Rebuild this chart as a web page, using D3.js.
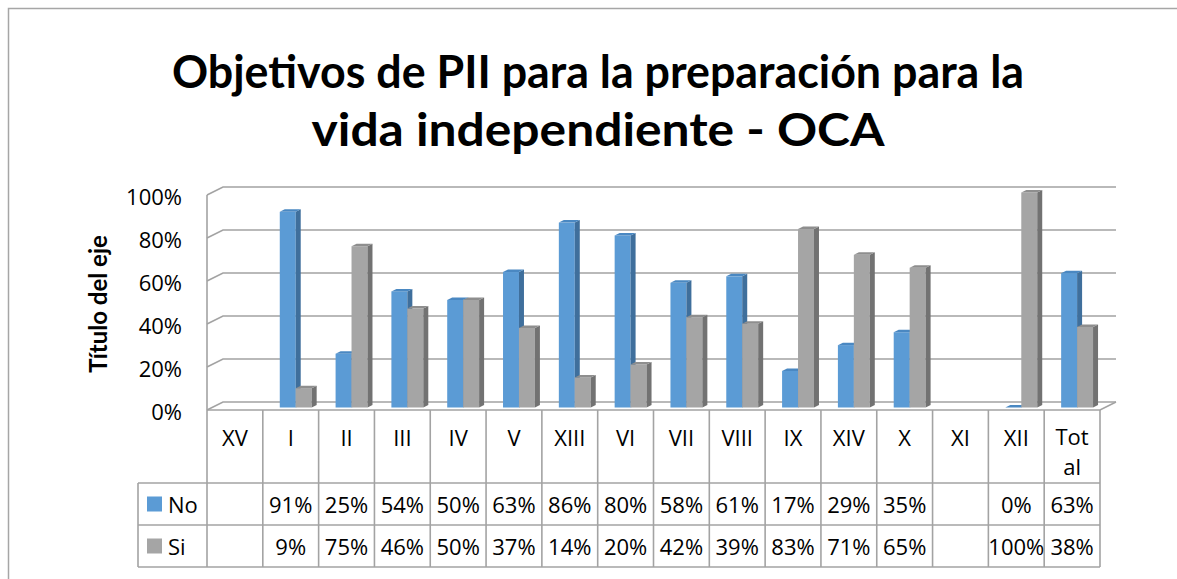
<!DOCTYPE html>
<html>
<head>
<meta charset="utf-8">
<script src="https://cdn.jsdelivr.net/npm/d3@7"></script>
<style>
html,body{margin:0;padding:0;background:#fff;}
svg{display:block;}
text{font-family:"Open Sans",Lato,sans-serif;fill:#000;}
</style>
</head>
<body>
<svg id="chart" width="1177" height="579"></svg>
<script>
// ---- data ----
const titleLines = ["Objetivos de PII para la preparación para la", "vida independiente - OCA"];
const axisTitle = "Título del eje";
const categories = ["XV","I","II","III","IV","V","XIII","VI","VII","VIII","IX","XIV","X","XI","XII","Total"];
const seriesNames = ["No","Si"];
const noValues = [null,0.91,0.25,0.54,0.50,0.63,0.86,0.80,0.58,0.61,0.17,0.29,0.35,null,0.00,0.625];
const siValues = [null,0.09,0.75,0.46,0.50,0.37,0.14,0.20,0.42,0.39,0.83,0.71,0.65,null,1.00,0.375];
const yTicks = [0,0.2,0.4,0.6,0.8,1.0];

const seriesValues = [noValues, siValues];
const colors = {
  No: {front:"#5b9bd5", side:"#3f6f9c", top:"#4a88c2"},
  Si: {front:"#a5a5a5", side:"#727272", top:"#8e8e8e"}
};

const svg = d3.select("#chart");
const fmt = v => Math.round(v*100) + "%";
const FS = 22;

// outer border
svg.append("rect").attr("x",8.5).attr("y",8.5).attr("width",1400).attr("height",800)
  .attr("fill","none").attr("stroke","#a6a6a6").attr("stroke-width",1.5);

// title (each line fitted to the reference width)
const titleWidths = [852, 573];
const titleBase = [88, 146];
titleLines.forEach((l,i)=>{
  svg.append("text").attr("x",598).attr("y",titleBase[i]).attr("text-anchor","middle")
    .style("font-family","Lato,'Open Sans',sans-serif")
    .attr("font-weight","bold").attr("font-size",45)
    .attr("textLength",titleWidths[i]).attr("lengthAdjust","spacingAndGlyphs").text(l);
});

// geometry
const left = 207, right = 1100;
const floorFront = 410, topFront = 195;
const DX = 16, DY = -8;   // wall depth
const bdx = 5, bdy = -2.5; // bar depth

const x = d3.scaleBand().domain(categories).range([left,right]).paddingInner(0).paddingOuter(0);
const xi = d3.scaleBand().domain(seriesNames).range([0,x.bandwidth()]).paddingInner(0).paddingOuter(0.75);
const yFront = d3.scaleLinear().domain([0,1]).range([floorFront, topFront]);
const yBack = d3.scaleLinear().domain([0,1]).range([floorFront+DY, topFront+DY]);
const yBar = d3.scaleLinear().domain([0,1]).range([floorFront+bdy, topFront+bdy]);

const gridColor = "#a3a3a3";
const grid = svg.append("g").attr("fill","none").attr("stroke",gridColor).attr("stroke-width",1.6);
yTicks.forEach(t=>{
  grid.append("path").attr("d",
    `M${left},${yFront(t)}L${left+DX},${yBack(t)}L${right+DX},${yBack(t)}`);
});
grid.append("path").attr("d",`M${left},${yFront(1)}L${left},${floorFront}`);
grid.append("path").attr("d",`M${left},${floorFront}L${right},${floorFront}L${right+DX},${floorFront+DY}`);

// y axis labels
const yAxis = svg.append("g").attr("transform",`translate(${182},2)`)
  .call(d3.axisLeft(yFront).tickValues(yTicks).tickFormat(d3.format(".0%")).tickSize(0).tickPadding(0));
yAxis.select(".domain").remove();
yAxis.selectAll("text").attr("font-size",FS).attr("font-family","'Open Sans',Lato,sans-serif").attr("fill","#000");

// axis title
svg.append("text").attr("transform","translate(97,304) rotate(-90)")
  .attr("text-anchor","middle").attr("dominant-baseline","central")
  .style("font-family","Lato,'Open Sans',sans-serif")
  .attr("font-weight","bold").attr("font-size",24).text(axisTitle);

// bars
const bars = svg.append("g");
categories.forEach((c,ci)=>{
  seriesNames.forEach((s,si)=>{
    const v = seriesValues[si][ci];
    if (v===null) return;
    const x0 = x(c) + xi(s) + bdx;
    const w = xi.bandwidth();
    const yb = yBar(0), yt = yBar(v);
    const col = colors[s];
    const g = bars.append("g");
    g.append("rect").attr("x",x0).attr("y",yt).attr("width",w).attr("height",yb-yt).attr("fill",col.front);
    g.append("path").attr("d",`M${x0+w},${yt}L${x0+w+bdx},${yt+bdy}L${x0+w+bdx},${yb+bdy}L${x0+w},${yb}Z`).attr("fill",col.side);
    g.append("path").attr("d",`M${x0},${yt}L${x0+bdx},${yt+bdy}L${x0+w+bdx},${yt+bdy}L${x0+w},${yt}Z`).attr("fill",col.top);
  });
});

// data table
const tLeft = 138;
const rowTops = [floorFront, 483, 525, 567];
const tbl = svg.append("g").attr("fill","none").attr("stroke",gridColor).attr("stroke-width",1.6);
categories.forEach(c=>{
  tbl.append("line").attr("x1",x(c)).attr("x2",x(c)).attr("y1",floorFront).attr("y2",rowTops[3]);
});
tbl.append("line").attr("x1",right).attr("x2",right).attr("y1",floorFront).attr("y2",rowTops[3]);
tbl.append("line").attr("x1",tLeft).attr("x2",tLeft).attr("y1",rowTops[1]).attr("y2",rowTops[3]);
[1,2,3].forEach(r=>{
  tbl.append("line").attr("x1",tLeft).attr("x2",right).attr("y1",rowTops[r]).attr("y2",rowTops[r]);
});

// category labels (wrapped)
const catG = svg.append("g").attr("font-size",FS).attr("text-anchor","middle");
categories.forEach(c=>{
  const cx = x(c) + x.bandwidth()/2;
  const t = catG.append("text").attr("x",cx).attr("y",437).attr("dominant-baseline","central").text(c);
  const maxW = x.bandwidth() - 14;
  if (t.node().getComputedTextLength() > maxW) {
    let lines = [], cur = "";
    for (const ch of c) {
      t.text(cur + ch);
      if (t.node().getComputedTextLength() > maxW && cur.length) { lines.push(cur); cur = ch; }
      else cur += ch;
    }
    lines.push(cur);
    t.remove();
    lines.forEach((l,li)=>{
      catG.append("text").attr("x",cx).attr("y",436 + li*30).attr("dominant-baseline","central").text(l);
    });
  }
});

// values
const valG = svg.append("g").attr("font-size",FS).attr("text-anchor","middle");
seriesNames.forEach((s,si)=>{
  const cy = (rowTops[si+1] + rowTops[si+2]) / 2;
  categories.forEach((c,ci)=>{
    const v = seriesValues[si][ci];
    if (v===null) return;
    valG.append("text").attr("x",x(c)+x.bandwidth()/2).attr("y",cy).attr("dominant-baseline","central").text(fmt(v));
  });
  svg.append("rect").attr("x",147).attr("y",cy-7.5).attr("width",15).attr("height",15).attr("fill",colors[s].front);
  svg.append("text").attr("x",168).attr("y",cy).attr("dominant-baseline","central").attr("font-size",FS).text(s);
});
</script>
</body>
</html>
